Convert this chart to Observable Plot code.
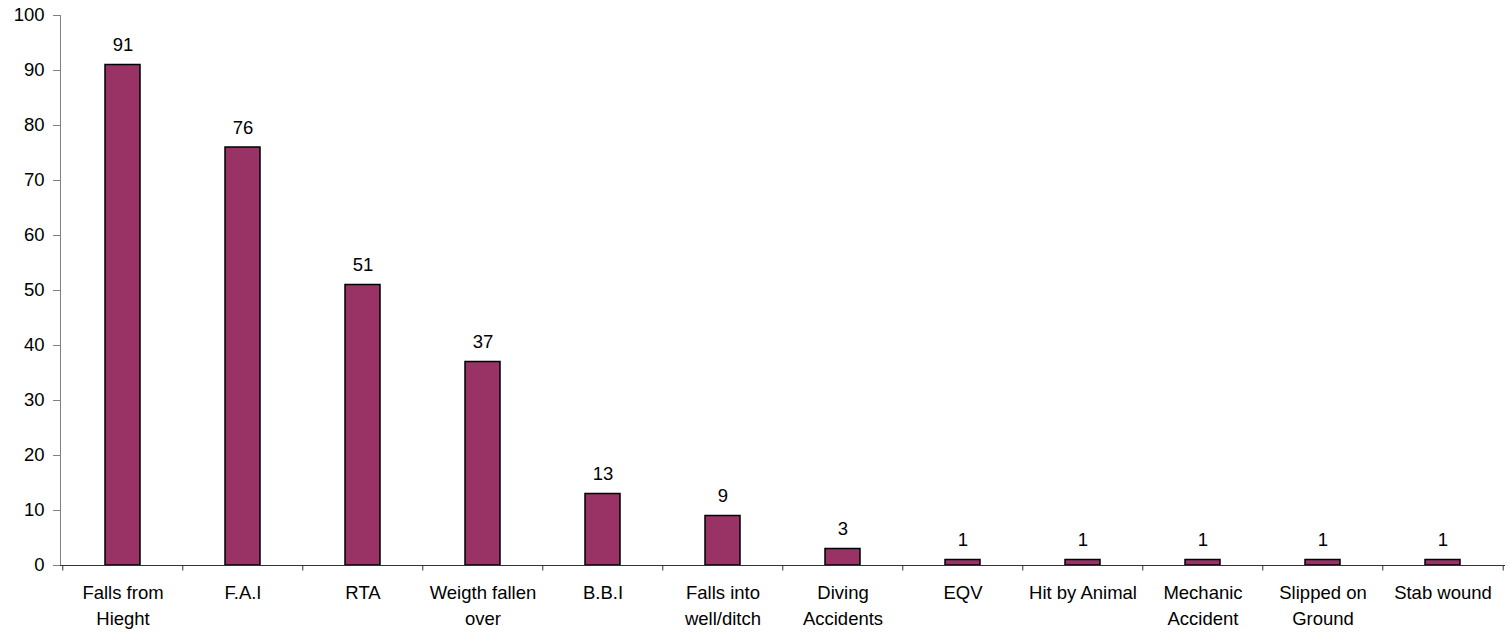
<!DOCTYPE html>
<html>
<head>
<meta charset="utf-8">
<script src="https://cdn.jsdelivr.net/npm/d3@7"></script>
<script src="https://cdn.jsdelivr.net/npm/@observablehq/plot@0.6"></script>
<style>
html,body{margin:0;padding:0;background:#fff;}
svg{display:block;}
</style>
</head>
<body>
<div id="chart"></div>
<script>
const categories = ["Falls from\nHieght","F.A.I","RTA","Weigth fallen\nover","B.B.I","Falls into\nwell/ditch","Diving\nAccidents","EQV","Hit by Animal","Mechanic\nAccident","Slipped on\nGround","Stab wound"];
const values = [91,76,51,37,13,9,3,1,1,1,1,1];
const yTicks = [0,10,20,30,40,50,60,70,80,90,100];

const data = categories.map((c,i)=>({cat:c, value:values[i]}));
const W = 1509, H = 632, mL = 60, mR = 4;
const step = (W - mL - mR) / categories.length;
const FS = 18.5;

const chart = Plot.plot({
  width: W, height: H,
  marginLeft: mL, marginRight: mR, marginTop: 15, marginBottom: 67,
  style: {fontFamily: "Liberation Sans, Arial, sans-serif", fontSize: FS + "px", color: "#000", background: "#fff"},
  x: {domain: categories, paddingInner: 0.71, paddingOuter: 0.355, label: null},
  y: {domain: [0,100], label: null},
  marks: [
    Plot.axisY({ticks: yTicks, tickSize: 7, tickPadding: 9, fontSize: FS, stroke: "#808080", label: null}),
    Plot.frame({anchor: "left", stroke: "#808080"}),
    Plot.axisX({tickSize: 0, tickPadding: 15, fontSize: FS, lineHeight: 1.4, label: null}),
    Plot.barY(data, {x: "cat", y: "value", fill: "#993366", stroke: "#000", strokeWidth: 1.5}),
    Plot.ruleY([0], {stroke: "#333"}),
    Plot.ruleX(categories, {x: d=>d, dx: -step/2, y1: 0, y2: -1, stroke: "#333"}),
    Plot.ruleX(categories.slice(-1), {x: d=>d, dx: step/2, y1: 0, y2: -1, stroke: "#333"}),
    Plot.text(data, {x: "cat", y: "value", text: d=>String(d.value), dy: -14, lineAnchor: "bottom", fontSize: FS, fill: "#000"})
  ]
});
document.getElementById("chart").appendChild(chart);
</script>
</body>
</html>
